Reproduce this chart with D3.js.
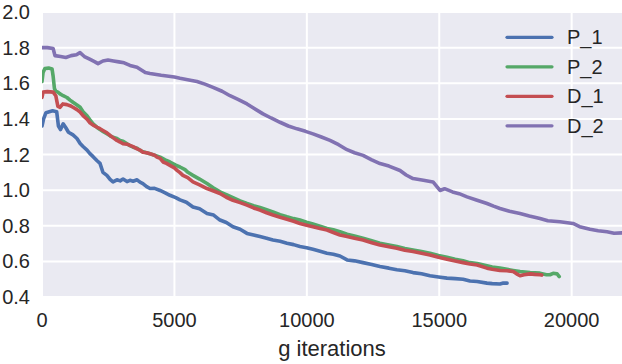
<!DOCTYPE html>
<html>
<head>
<meta charset="utf-8">
<script src="https://cdn.jsdelivr.net/npm/d3@7"></script>
<style>
  body { margin: 0; background: #fff; }
  text { font-family: "Liberation Sans", Arial, sans-serif; fill: #262626; }
</style>
</head>
<body>
<script>
var w = 622;
var h = 364;

// series names and colours (seaborn "deep")
var names = ["P_1", "P_2", "D_1", "D_2"];
var colors = ["#4C72B0", "#55A868", "#C44E52", "#8172B2"];

var xTicks = [0, 5000, 10000, 15000, 20000];
var yTicks = [0.4, 0.6, 0.8, 1.0, 1.2, 1.4, 1.6, 1.8, 2.0];

// values: g iterations -> value
var p1Iter = [0, 60, 150, 400, 555, 620, 700, 800, 900, 1000, 1170, 1320, 1440, 1550, 1700, 1810, 1930, 2080, 2190, 2300, 2450, 2570, 2680, 2830, 2950, 3060, 3210, 3320, 3440, 3590, 3700, 3810, 3950, 4080, 4250, 4460, 4650, 4830, 5050, 5210, 5450, 5700, 5950, 6230, 6480, 6720, 6960, 7210, 7480, 7740, 7990, 8230, 8480, 8720, 8990, 9250, 9500, 9740, 9990, 10230, 10500, 10760, 11000, 11250, 11520, 11800, 12120, 12450, 12760, 13100, 13400, 13700, 14010, 14330, 14650, 14970, 15290, 15600, 15900, 16160, 16430, 16800, 17000, 17290, 17420, 17560];
var p1Val = [1.36, 1.40, 1.435, 1.445, 1.44, 1.36, 1.34, 1.372, 1.35, 1.325, 1.31, 1.29, 1.262, 1.245, 1.225, 1.205, 1.188, 1.165, 1.15, 1.10, 1.083, 1.06, 1.046, 1.058, 1.052, 1.062, 1.048, 1.055, 1.05, 1.058, 1.045, 1.037, 1.02, 1.009, 1.01, 0.998, 0.985, 0.971, 0.958, 0.945, 0.932, 0.905, 0.895, 0.869, 0.86, 0.832, 0.818, 0.794, 0.78, 0.757, 0.748, 0.739, 0.73, 0.72, 0.713, 0.702, 0.694, 0.683, 0.677, 0.668, 0.657, 0.646, 0.64, 0.63, 0.608, 0.603, 0.593, 0.583, 0.571, 0.562, 0.553, 0.547, 0.537, 0.53, 0.519, 0.512, 0.506, 0.503, 0.50, 0.49, 0.487, 0.478, 0.475, 0.473, 0.479, 0.478];

var p2Iter = [0, 40, 110, 250, 380, 420, 470, 520, 600, 680, 800, 940, 1060, 1170, 1320, 1440, 1550, 1700, 1810, 1930, 2080, 2190, 2300, 2450, 2570, 2680, 2830, 2950, 3060, 3210, 3320, 3440, 3590, 3700, 3810, 4080, 4250, 4460, 4650, 4830, 5050, 5210, 5400, 5510, 5700, 5950, 6230, 6480, 6720, 6960, 7210, 7480, 7740, 7990, 8230, 8480, 8720, 8990, 9250, 9500, 9740, 9990, 10230, 10500, 10760, 11000, 11250, 11520, 11800, 12120, 12450, 12760, 13100, 13400, 13700, 14010, 14330, 14650, 14970, 15290, 15600, 15900, 16160, 16430, 16800, 17000, 17290, 17560, 17790, 18050, 18430, 18800, 19050, 19180, 19300, 19450, 19530];
var p2Val = [1.61, 1.66, 1.683, 1.685, 1.68, 1.64, 1.57, 1.555, 1.55, 1.54, 1.53, 1.52, 1.505, 1.493, 1.478, 1.465, 1.44, 1.418, 1.395, 1.372, 1.352, 1.34, 1.33, 1.316, 1.305, 1.297, 1.29, 1.279, 1.275, 1.26, 1.25, 1.241, 1.235, 1.223, 1.215, 1.204, 1.196, 1.185, 1.17, 1.158, 1.14, 1.13, 1.115, 1.10, 1.083, 1.062, 1.037, 1.012, 0.99, 0.975, 0.958, 0.94, 0.925, 0.912, 0.903, 0.89, 0.878, 0.862, 0.85, 0.84, 0.832, 0.82, 0.81, 0.798, 0.785, 0.778, 0.767, 0.752, 0.742, 0.73, 0.716, 0.702, 0.692, 0.683, 0.672, 0.664, 0.655, 0.646, 0.633, 0.623, 0.612, 0.603, 0.593, 0.588, 0.575, 0.568, 0.562, 0.555, 0.549, 0.543, 0.537, 0.534, 0.525, 0.525, 0.533, 0.53, 0.515];

var d1Iter = [0, 40, 200, 420, 520, 600, 680, 790, 940, 1060, 1170, 1320, 1440, 1550, 1700, 1810, 1930, 2080, 2190, 2300, 2450, 2570, 2680, 2830, 2950, 3060, 3210, 3320, 3440, 3590, 3700, 3810, 3950, 4080, 4250, 4340, 4460, 4570, 4700, 4830, 5000, 5100, 5210, 5320, 5500, 5700, 5950, 6230, 6480, 6720, 6960, 7210, 7480, 7740, 7990, 8230, 8480, 8720, 8990, 9250, 9500, 9740, 9990, 10230, 10500, 10760, 11000, 11250, 11520, 11800, 12120, 12450, 12760, 13100, 13400, 13700, 14010, 14330, 14650, 14970, 15290, 15600, 15900, 16160, 16430, 16800, 17000, 17290, 17560, 17790, 17920, 18050, 18200, 18430, 18600, 18800, 18870];
var d1Val = [1.52, 1.55, 1.553, 1.55, 1.53, 1.47, 1.465, 1.484, 1.48, 1.474, 1.465, 1.452, 1.438, 1.418, 1.398, 1.378, 1.365, 1.353, 1.345, 1.335, 1.322, 1.307, 1.295, 1.279, 1.27, 1.26, 1.258, 1.251, 1.244, 1.232, 1.225, 1.213, 1.21, 1.204, 1.196, 1.185, 1.178, 1.158, 1.15, 1.139, 1.125, 1.111, 1.098, 1.083, 1.07, 1.046, 1.03, 1.009, 0.995, 0.981, 0.96, 0.943, 0.93, 0.916, 0.90, 0.888, 0.873, 0.86, 0.848, 0.836, 0.825, 0.813, 0.803, 0.794, 0.784, 0.776, 0.762, 0.748, 0.739, 0.73, 0.72, 0.705, 0.692, 0.682, 0.674, 0.663, 0.655, 0.645, 0.636, 0.623, 0.612, 0.602, 0.593, 0.585, 0.58, 0.562, 0.556, 0.549, 0.547, 0.543, 0.53, 0.519, 0.525, 0.53, 0.527, 0.525, 0.523];

var d2Iter = [0, 200, 420, 490, 700, 900, 1100, 1300, 1435, 1600, 1800, 2000, 2115, 2300, 2492, 2700, 2900, 3100, 3323, 3587, 3900, 4078, 4500, 5000, 5211, 5500, 5853, 6150, 6457, 6800, 7099, 7400, 7741, 8000, 8345, 8650, 8987, 9300, 9629, 9950, 10233, 10550, 10875, 11200, 11517, 11800, 12121, 12450, 12763, 13100, 13518, 13750, 14009, 14400, 14764, 15028, 15200, 15500, 15750, 16048, 16400, 16803, 17050, 17294, 17650, 18049, 18400, 18804, 19100, 19560, 20050, 20300, 20692, 21000, 21334, 21600, 21900];
var d2Val = [1.80, 1.80, 1.795, 1.755, 1.75, 1.745, 1.755, 1.76, 1.772, 1.75, 1.735, 1.72, 1.71, 1.725, 1.73, 1.725, 1.72, 1.715, 1.70, 1.69, 1.66, 1.655, 1.645, 1.635, 1.628, 1.62, 1.61, 1.595, 1.577, 1.555, 1.53, 1.51, 1.484, 1.46, 1.428, 1.405, 1.381, 1.36, 1.344, 1.33, 1.316, 1.298, 1.279, 1.255, 1.227, 1.21, 1.195, 1.17, 1.149, 1.135, 1.11, 1.085, 1.065, 1.055, 1.046, 0.998, 1.008, 0.99, 0.98, 0.962, 0.945, 0.925, 0.91, 0.897, 0.882, 0.869, 0.855, 0.841, 0.828, 0.822, 0.813, 0.795, 0.78, 0.772, 0.766, 0.758, 0.76];

var series = [
    d3.zip(p1Iter, p1Val),
    d3.zip(p2Iter, p2Val),
    d3.zip(d1Iter, d1Val),
    d3.zip(d2Iter, d2Val)
];

var plotLeft = 42, plotRight = 622, plotTop = 12, plotBottom = 297;

var x = d3.scaleLinear().domain([0, 21900]).range([plotLeft, plotRight]);
var y = d3.scaleLinear().domain([0.4, 2.0]).range([plotBottom, plotTop]);

var svg = d3.select("body")
            .append("svg")
            .attr("width", w)
            .attr("height", h);

svg.append("clipPath").attr("id", "plot")
    .append("rect")
    .attr("x", plotLeft).attr("y", plotTop)
    .attr("width", plotRight - plotLeft).attr("height", plotBottom - plotTop);

svg.append("rect")
    .attr("x", plotLeft).attr("y", plotTop)
    .attr("width", plotRight - plotLeft).attr("height", plotBottom - plotTop)
    .attr("fill", "#EAEAF2");

// grid
svg.selectAll("line.gx")
    .data(xTicks)
    .enter()
    .append("line")
    .attr("x1", function(d){ return x(d); })
    .attr("x2", function(d){ return x(d); })
    .attr("y1", plotTop).attr("y2", plotBottom)
    .attr("stroke", "#fff").attr("stroke-width", 2);

svg.selectAll("line.gy")
    .data(yTicks)
    .enter()
    .append("line")
    .attr("x1", plotLeft).attr("x2", plotRight)
    .attr("y1", function(d){ return y(d); })
    .attr("y2", function(d){ return y(d); })
    .attr("stroke", "#fff").attr("stroke-width", 2);

// tick labels
svg.selectAll("text.xt")
    .data(xTicks)
    .enter()
    .append("text")
    .attr("x", function(d){ return x(d); })
    .attr("y", 327)
    .attr("text-anchor", "middle")
    .style("font-size", "20px")
    .text(function(d){ return d; });

svg.selectAll("text.yt")
    .data(yTicks)
    .enter()
    .append("text")
    .attr("x", 30)
    .attr("y", function(d){ return y(d) + 7; })
    .attr("text-anchor", "end")
    .style("font-size", "20px")
    .text(function(d){ return d3.format(".1f")(d); });

svg.append("text")
    .attr("x", (plotLeft + plotRight) / 2)
    .attr("y", 356)
    .attr("text-anchor", "middle")
    .style("font-size", "22px")
    .text("g iterations");

// lines
var line = d3.line()
    .x(function(d){ return x(d[0]); })
    .y(function(d){ return y(d[1]); });

svg.append("g")
    .attr("clip-path", "url(#plot)")
    .selectAll("path")
    .data(series)
    .enter()
    .append("path")
    .attr("d", line)
    .attr("fill", "none")
    .attr("stroke", function(d, i){ return colors[i]; })
    .attr("stroke-width", 3.6)
    .attr("stroke-linejoin", "round")
    .attr("stroke-linecap", "round");

// legend
var legend = svg.selectAll("g.legend")
    .data(names)
    .enter()
    .append("g")
    .attr("transform", function(d, i){ return "translate(507," + (37.3 + i * 29.5) + ")"; });

legend.append("line")
    .attr("x1", 0).attr("x2", 45)
    .attr("stroke", function(d, i){ return colors[i]; })
    .attr("stroke-width", 3.2)
    .attr("stroke-linecap", "round");

legend.append("text")
    .attr("x", 60)
    .attr("y", 7)
    .style("font-size", "20px")
    .text(function(d){ return d; });
</script>
</body>
</html>
